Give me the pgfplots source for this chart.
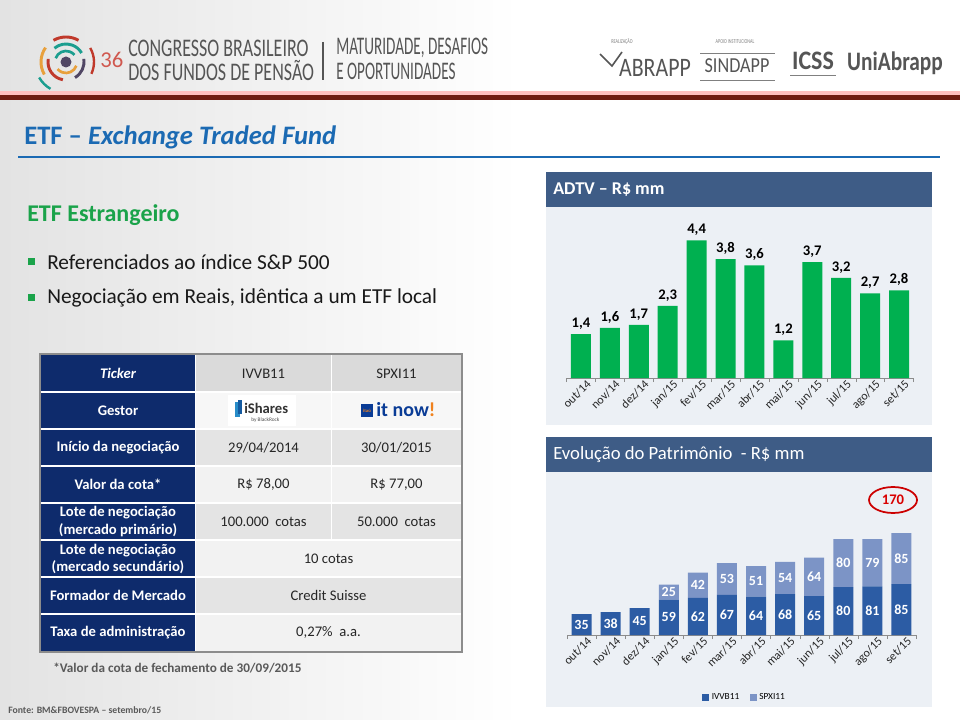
\documentclass[border=0pt]{standalone}
\usepackage{pgfplots}
\pgfplotsset{compat=1.18}
\usepackage{fontspec}
\usepackage{graphicx}
\setmainfont{Carlito}
\definecolor{slate}{RGB}{62,92,134}
\definecolor{panel}{RGB}{236,240,245}
\definecolor{barg}{RGB}{0,176,80}
\definecolor{ivvb}{RGB}{44,92,164}
\definecolor{spxi}{RGB}{124,148,198}
\definecolor{navy}{RGB}{14,43,108}
\definecolor{titleblue}{RGB}{27,106,179}
\definecolor{tgreen}{RGB}{26,163,74}
\definecolor{darkred}{RGB}{112,28,18}
\definecolor{cellA}{RGB}{218,218,218}
\definecolor{cellB}{RGB}{228,228,228}
\definecolor{cellC}{RGB}{242,242,242}
\definecolor{hdr}{RGB}{85,85,85}
\definecolor{red36}{RGB}{208,88,79}
\definecolor{lorange}{RGB}{232,160,60}
\definecolor{lred}{RGB}{192,57,43}
\definecolor{lteal}{RGB}{27,158,143}
\definecolor{ldark}{RGB}{80,70,100}
\definecolor{itorange}{RGB}{240,130,30}
\definecolor{itblue}{RGB}{10,60,150}
\definecolor{ishl}{RGB}{40,140,200}
\definecolor{ishd}{RGB}{20,90,160}
\newcommand{\fs}[1]{\fontsize{#1}{#1}\selectfont}
\begin{document}
\begin{tikzpicture}
\begin{scope}[x=0.75pt,y=-0.75pt]
\path[use as bounding box] (0,0) rectangle (960,720);
\fill[white] (0,0) rectangle (960,720);
\shade[left color=black!11,right color=white] (0,0) rectangle (520,720);
% header lines
\fill[red!25!white] (0,91) rectangle (960,95);
\fill[darkred] (0,95) rectangle (960,100);
% logo
\fill[ldark] (66,62) circle (5.5);
\draw[lteal,line width=2pt] (66,62) ++(200:11) arc (200:320:11);
\draw[lorange,line width=2pt] (66,62) ++(20:11) arc (20:140:11);
\draw[lred,line width=2.2pt] (66,62) ++(100:18) arc (100:190:18);
\draw[lteal,line width=2.2pt] (66,62) ++(230:18) arc (230:330:18);
\draw[ldark,line width=2.2pt] (66,62) ++(350:18) arc (350:420:18);
\draw[lorange,line width=2.2pt] (66,62) ++(150:25) arc (150:215:25);
\draw[lred,line width=2.2pt] (66,62) ++(240:25) arc (240:300:25);
\draw[lteal,line width=1.8pt] (66,62) ++(120:31) arc (120:150:31);
\draw[lred,line width=1.8pt] (66,62) ++(330:28) arc (330:385:28);
\node[anchor=west,text=red36,inner sep=0] at (100,60) {\fs{17}36};
\node[anchor=west,text=hdr,inner sep=0] at (128,48) {\scalebox{0.71}[1]{\fs{19}CONGRESSO BRASILEIRO}};
\node[anchor=west,text=hdr,inner sep=0] at (128,71) {\scalebox{0.71}[1]{\fs{19}DOS FUNDOS DE PENSÃO}};
\draw[hdr,line width=0.8pt] (323,42) -- (323,80);
\node[anchor=west,text=hdr,inner sep=0] at (336,48) {\scalebox{0.6}[1]{\fs{19}MATURIDADE, DESAFIOS}};
\node[anchor=west,text=hdr,inner sep=0] at (336,71) {\scalebox{0.6}[1]{\fs{19}E OPORTUNIDADES}};
% right logos
\node[text=gray,inner sep=0] at (622,42) {\scalebox{0.7}[1]{\fs{4.5}REALIZAÇÃO}};
\draw[hdr,line width=1.2pt] (600,54) -- (612,66) -- (622,52);
\node[text=hdr,inner sep=0] at (655,68) {\scalebox{0.82}[1]{\fs{20}ABRAPP}};
\node[text=gray,inner sep=0] at (735,42) {\scalebox{0.7}[1]{\fs{4.5}APOIO INSTITUCIONAL}};
\draw[gray,line width=0.6pt] (700,53) -- (775,53);
\draw[gray,line width=0.6pt] (700,80) -- (775,80);
\node[text=hdr,inner sep=0] at (737,66) {\scalebox{0.85}[1]{\fs{16}SINDAPP}};
\node[text=hdr,inner sep=0] at (813,61) {\scalebox{0.9}[1]{\fs{20}\bfseries ICSS}};
\draw[gray,line width=0.6pt] (790,75) -- (836,75);
\node[text=hdr,inner sep=0] at (895,63) {\scalebox{0.8}[1]{\fs{20}\bfseries UniAbrapp}};
% title
\node[anchor=west,text=titleblue,inner sep=0] at (24,137) {\fs{20}\bfseries ETF -- \itshape Exchange Traded Fund};
\draw[titleblue,line width=2.2pt] (18,157) -- (940,157);
% left text
\node[anchor=west,text=tgreen,inner sep=0] at (27,215) {\fs{18}\bfseries ETF Estrangeiro};
\fill[tgreen] (28,258) rectangle (35,265);
\node[anchor=west,inner sep=0,text=black!90] at (47,262) {\fs{16}Referenciados ao índice S\&P 500};
\fill[tgreen] (28,294) rectangle (35,301);
\node[anchor=west,inner sep=0,text=black!90] at (47,298) {\fs{16}Negociação em Reais, idêntica a um ETF local};
% table
\fill[navy] (41,355) rectangle (195,651);
\fill[cellA] (196,355) rectangle (461,392);
\fill[white!97!black] (196,392) rectangle (461,429);
\fill[cellB] (196,429) rectangle (461,466);
\fill[cellC] (196,466) rectangle (461,503);
\fill[cellB] (196,503) rectangle (461,540);
\fill[cellC] (196,540) rectangle (461,577);
\fill[cellB] (196,577) rectangle (461,614);
\fill[cellC] (196,614) rectangle (461,651);
\foreach \yy in {392,429,466,503,540,577,614} {\draw[white,line width=1.3pt] (41,\yy) -- (461,\yy);}
\draw[white,line width=1.3pt] (195.5,355) -- (195.5,651);
\draw[white,line width=1.3pt] (331.5,355) -- (331.5,540);
\draw[black!45,line width=0.8pt] (40,354) rectangle (462,652);
\begin{scope}[every node/.style={text=white,align=center,inner sep=0,font=\fontsize{11}{12.8}\selectfont\bfseries}]
\node at (118,373.5) {\itshape Ticker};
\node at (118,410.5) {Gestor};
\node at (118,447.5) {Início da negociação};
\node at (118,484.5) {Valor da cota*};
\node at (118,521.5) {Lote de negociação\\(mercado primário)};
\node at (118,558.5) {Lote de negociação\\(mercado secundário)};
\node at (118,595.5) {Formador de Mercado};
\node at (118,632.5) {Taxa de administração};
\end{scope}
\begin{scope}[every node/.style={text=black!85,inner sep=0,font=\fs{11}}]
\node at (263.5,373.5) {IVVB11};
\node at (396.5,373.5) {SPXI11};
\node at (263.5,447.5) {29/04/2014};
\node at (396.5,447.5) {30/01/2015};
\node at (263.5,484.5) {R\$ 78,00};
\node at (396.5,484.5) {R\$ 77,00};
\node at (263.5,521.5) {100.000 \ cotas};
\node at (396.5,521.5) {50.000 \ cotas};
\node at (328.5,558.5) {10 cotas};
\node at (328.5,595.5) {Credit Suisse};
\node at (328.5,632.5) {0,27\% \ a.a.};
\end{scope}
% logos in table
\fill[white] (228,395) rectangle (296,426);
\fill[ishl] (235,402) rectangle (240,417);
\fill[ishd] (238,400) rectangle (242,414);
\node[anchor=west,inner sep=0,text=black!80] at (244,408) {\fs{11}\bfseries iShares};
\node[anchor=west,inner sep=0,text=black!70] at (251,420) {\fs{4}by \textsc{BlackRock}};
\fill[itblue] (361,404) rectangle (373,417);
\node[text=itorange,inner sep=0] at (367,411) {\fs{3.5}\bfseries itaú};
\node[anchor=west,inner sep=0,text=itblue] at (376,410) {\fs{15}\bfseries it now\textcolor{itorange}{!}};
% footnotes
\node[anchor=west,inner sep=0,text=black!65] at (53,668) {\fs{9.9}\bfseries *Valor da cota de fechamento de 30/09/2015};
\node[anchor=west,inner sep=0,text=black!65] at (8,710) {\fs{7.3}\bfseries Fonte: BM\&FBOVESPA -- setembro/15};
% top panel
\fill[panel] (546,172) rectangle (932,425);
\fill[slate] (546,172) rectangle (932,207);
\node[anchor=west,text=white,inner sep=0] at (553,190) {\fs{13.5}\bfseries ADTV -- R\$ mm};
\coordinate (topO) at (566.5,378);
% bottom panel
\fill[panel] (546,437) rectangle (932,707);
\fill[slate] (546,437) rectangle (932,472);
\node[anchor=west,text=white,inner sep=0] at (553,455) {\fs{14}Evolução do Patrimônio \ - R\$ mm};
\coordinate (botO) at (567,635);
\draw[red!80!black,line width=1.3pt] (893,500) ellipse (24 and 13);
\node[text=red!85!black,inner sep=0] at (893,500) {\fs{11}\bfseries 170};
\end{scope}
% ---------- ADTV chart
\begin{axis}[at={(topO)},anchor=south west,scale only axis,
  width=260.25pt,height=117.4pt,
  xmin=-0.5,xmax=11.5,ymin=0,ymax=5,
  axis y line=none,axis x line*=bottom,clip=false,
  x axis line style={black!45,-},
  xtick={0,...,11},
  xticklabels={out/14,nov/14,dez/14,jan/15,fev/15,mar/15,abr/15,mai/15,jun/15,jul/15,ago/15,set/15},
  major tick length=0pt,
  minor xtick={-0.5,0.5,...,11.5},minor tick length=3pt,
  tick align=outside,tick style={black!45},
  xticklabel style={rotate=45,anchor=north east,font=\fs{9},text=black!85,inner sep=1pt,xshift=3pt,yshift=-2pt},
  ybar,bar width=15pt,
  nodes near coords,
  every node near coord/.append style={font=\fs{11}\bfseries,text=black},
  /pgf/number format/.cd,assume math mode=true,use comma,fixed,fixed zerofill,precision=1]
\addplot[fill=barg,draw=none] coordinates {(0,1.4) (1,1.6) (2,1.7) (3,2.3) (4,4.4) (5,3.8) (6,3.6) (7,1.2) (8,3.7) (9,3.2) (10,2.7) (11,2.8)};
\end{axis}
% ---------- Patrimonio chart
\begin{axis}[at={(botO)},anchor=south west,scale only axis,
  width=261.75pt,height=90pt,
  xmin=-0.5,xmax=11.5,ymin=0,ymax=200,
  axis y line=none,axis x line*=bottom,clip=false,
  x axis line style={black!45,-},
  xtick={0,...,11},
  xticklabels={out/14,nov/14,dez/14,jan/15,fev/15,mar/15,abr/15,mai/15,jun/15,jul/15,ago/15,set/15},
  major tick length=0pt,
  minor xtick={-0.5,0.5,...,11.5},minor tick length=3pt,
  tick align=outside,tick style={black!45},
  xticklabel style={rotate=45,anchor=north east,font=\fs{9},text=black!85,inner sep=1pt,xshift=3pt,yshift=-2pt},
  ybar stacked,bar width=15pt,
  legend style={at={(0.51,-0.52)},anchor=center,draw=none,fill=none,font=\fs{7},legend columns=2,
    /tikz/every even column/.append style={column sep=6pt}},
  legend image code/.code={\fill[#1,draw=none] (0pt,-2.5pt) rectangle (5pt,2.5pt);}]
\addplot[fill=ivvb,draw=none] coordinates {(0,35) (1,38) (2,45) (3,59) (4,62) (5,67) (6,64) (7,68) (8,65) (9,80) (10,81) (11,85)};
\addplot[fill=spxi,draw=none] coordinates {(0,0) (1,0) (2,0) (3,25) (4,42) (5,53) (6,51) (7,54) (8,64) (9,80) (10,79) (11,85)};
\legend{IVVB11,SPXI11}
\end{axis}
\begin{axis}[at={(botO)},anchor=south west,scale only axis,
  width=261.75pt,height=90pt,
  xmin=-0.5,xmax=11.5,ymin=0,ymax=200,hide axis,clip=false]
\addplot[draw=none,mark=none,nodes near coords,point meta=explicit symbolic,
  nodes near coords align=center,
  every node near coord/.append style={font=\fs{10.5}\bfseries,text=white,inner sep=0pt}]
  coordinates {(0,17.5)[35] (1,19)[38] (2,22.5)[45] (3,29.5)[59] (4,31)[62] (5,33.5)[67] (6,32)[64] (7,34)[68] (8,32.5)[65] (9,40)[80] (10,40.5)[81] (11,42.5)[85]};
\addplot[draw=none,mark=none,nodes near coords,point meta=explicit symbolic,
  nodes near coords align=center,
  every node near coord/.append style={font=\fs{10.5}\bfseries,text=white,inner sep=0pt}]
  coordinates {(3,71.5)[25] (4,83)[42] (5,93.5)[53] (6,89.5)[51] (7,95)[54] (8,97)[64] (9,120)[80] (10,120.5)[79] (11,127.5)[85]};
\end{axis}
\end{tikzpicture}
\end{document}
